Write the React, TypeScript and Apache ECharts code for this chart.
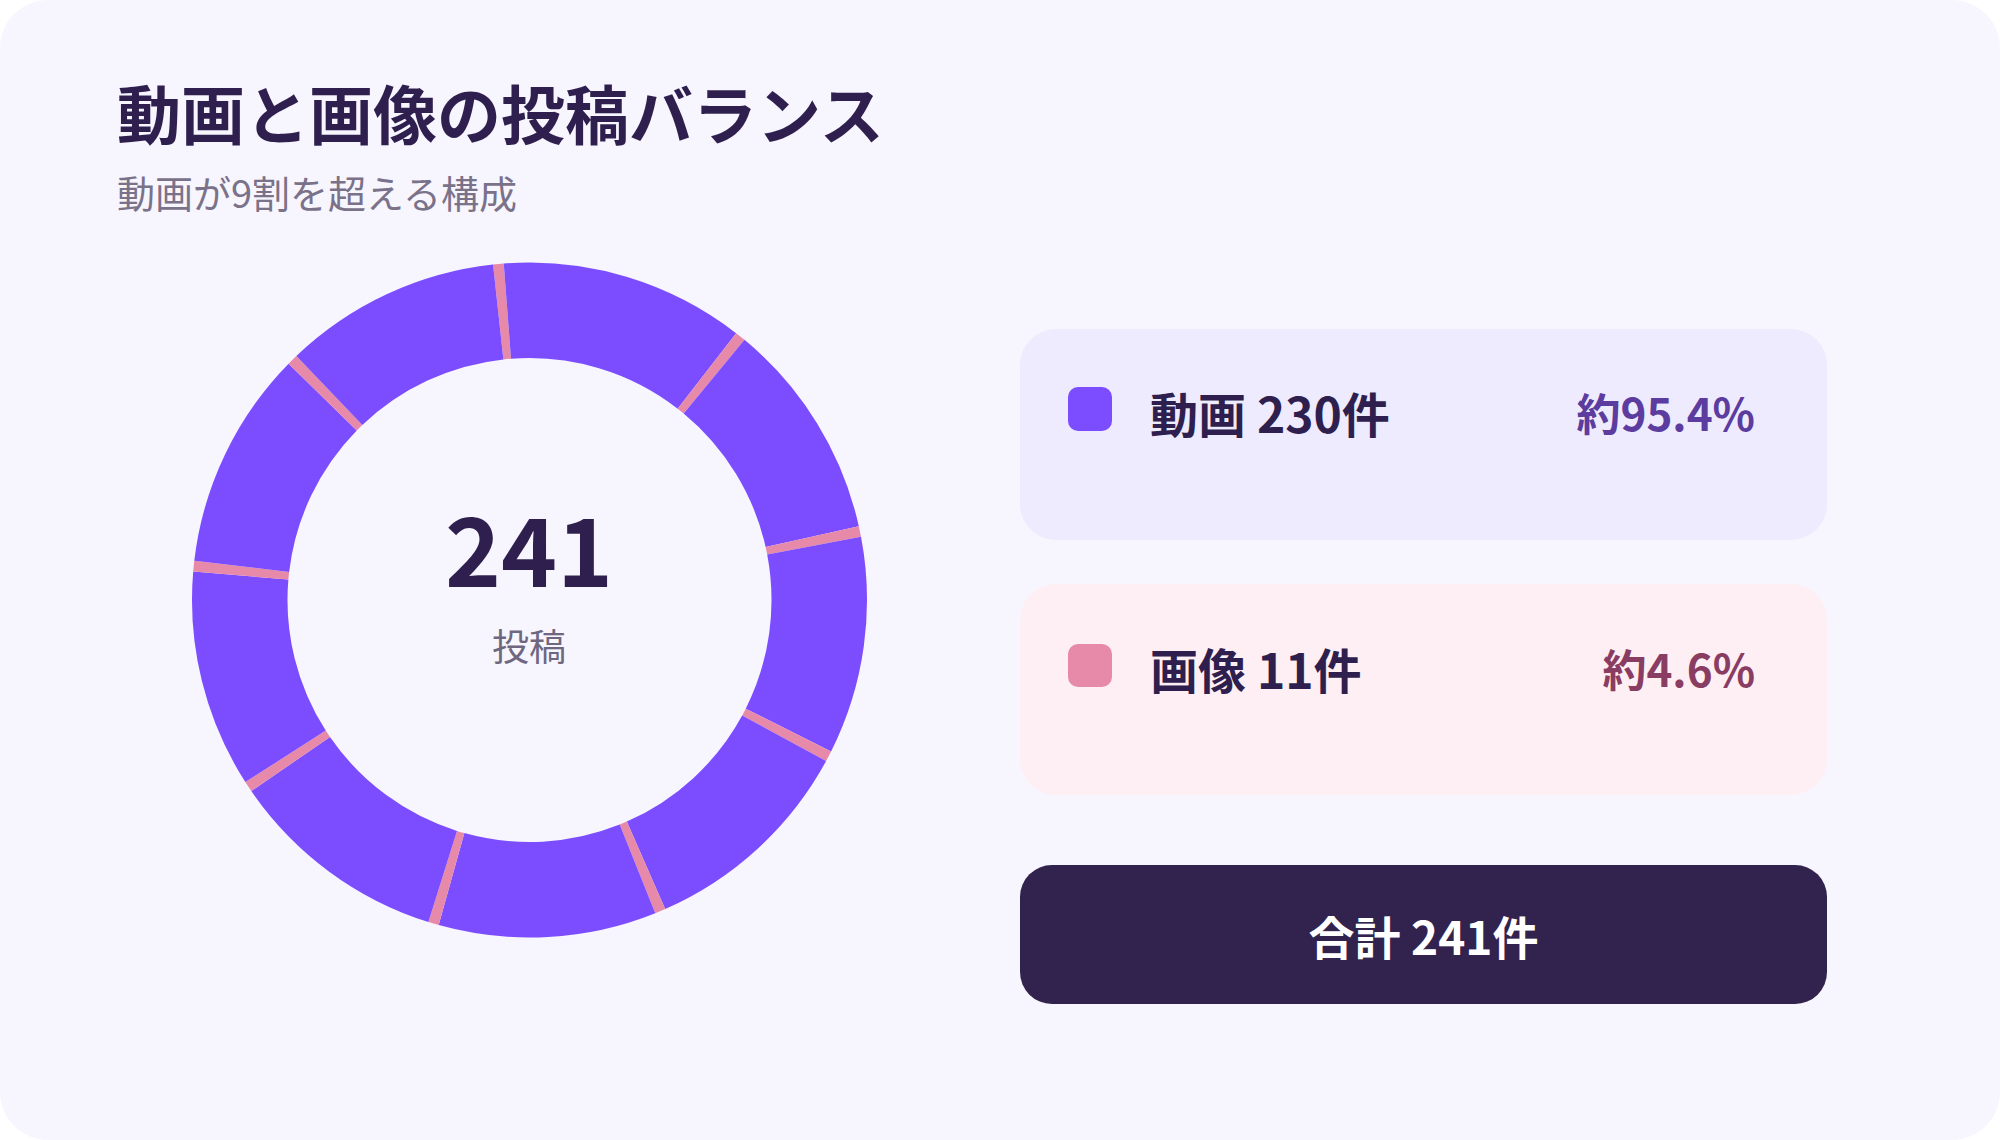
import React, { useEffect, useRef } from "react";
import * as echarts from "echarts";

// Totals
const categories = ["動画", "画像"];
const totals = [230, 11];
const percentLabels = ["約95.4%", "約4.6%"];
// Ring segments: video blocks separated by thin image slices
const videoSegments = [28.2, 25.3, 25.1, 25.3, 25.1, 25.5, 25.1, 25.3, 25.1];
const imageSegments = [1.22, 1.22, 1.22, 1.22, 1.22, 1.22, 1.22, 1.22, 1.24];

const PURPLE = "#7C4DFF";
const PINK = "#E78AAA";
const DARK = "#2F1F4E";
const FONT = "'Noto Sans CJK JP', 'Noto Sans', sans-serif";

export default function App() {
  const ref = useRef<HTMLDivElement>(null);
  useEffect(() => {
    if (!ref.current) return;
    const chart = echarts.init(ref.current, null, { renderer: "svg" });
    const ringData: any[] = [];
    for (let i = 0; i < videoSegments.length; i++) {
      ringData.push({ name: categories[1] + (i + 1), value: imageSegments[i], itemStyle: { color: PINK } });
      ringData.push({ name: categories[0] + (i + 1), value: videoSegments[i], itemStyle: { color: PURPLE } });
    }
    const total = totals[0] + totals[1];
    const cardX = 1020;
    const cardW = 807;
    chart.setOption({
      animation: false,
      graphic: [
        { type: "rect", z: -10, shape: { x: 0, y: 0, width: 2000, height: 1140, r: 48 }, style: { fill: "#F7F5FE" } },
        { type: "text", style: { x: 117, y: 111, text: "動画と画像の投稿バランス", font: `bold 64px ${FONT}`, fill: DARK, textVerticalAlign: "middle" } },
        { type: "text", style: { x: 117, y: 191, text: "動画が9割を超える構成", font: `normal 38px ${FONT}`, fill: "#7A7289", textVerticalAlign: "middle" } },
        // center labels
        { type: "text", style: { x: 529, y: 545, text: String(total), font: `bold 95px ${FONT}`, fill: DARK, textAlign: "center", textVerticalAlign: "middle" } },
        { type: "text", style: { x: 529, y: 645, text: "投稿", font: `normal 37px ${FONT}`, fill: "#6F6780", textAlign: "center", textVerticalAlign: "middle" } },
        // card 1
        { type: "rect", shape: { x: cardX, y: 329, width: cardW, height: 211, r: 36 }, style: { fill: "#EEEBFE" } },
        { type: "rect", shape: { x: 1068, y: 387, width: 44, height: 44, r: 10 }, style: { fill: PURPLE } },
        { type: "text", style: { x: 1150, y: 412, text: `${categories[0]} ${totals[0]}件`, font: `bold 48px ${FONT}`, fill: DARK, textVerticalAlign: "middle" } },
        { type: "text", style: { x: 1755, y: 412, text: percentLabels[0], font: `bold 44px ${FONT}`, fill: "#5C3C9E", textAlign: "right", textVerticalAlign: "middle" } },
        // card 2
        { type: "rect", shape: { x: cardX, y: 584, width: cardW, height: 211, r: 36 }, style: { fill: "#FEEFF4" } },
        { type: "rect", shape: { x: 1068, y: 644, width: 44, height: 43, r: 10 }, style: { fill: PINK } },
        { type: "text", style: { x: 1150, y: 668, text: `${categories[1]} ${totals[1]}件`, font: `bold 48px ${FONT}`, fill: DARK, textVerticalAlign: "middle" } },
        { type: "text", style: { x: 1755, y: 668, text: percentLabels[1], font: `bold 44px ${FONT}`, fill: "#8A3D62", textAlign: "right", textVerticalAlign: "middle" } },
        // total button
        { type: "rect", shape: { x: cardX, y: 865, width: cardW, height: 139, r: 32 }, style: { fill: "#32224E" } },
        { type: "text", style: { x: cardX + cardW / 2, y: 935, text: `合計 ${total}件`, font: `bold 46px ${FONT}`, fill: "#FFFFFF", textAlign: "center", textVerticalAlign: "middle" } },
      ],
      series: [
        {
          type: "pie",
          center: [529.5, 600],
          radius: [242, 337.5],
          startAngle: 96.2,
          clockwise: true,
          silent: true,
          label: { show: false },
          labelLine: { show: false },
          emphasis: { disabled: true },
          itemStyle: { borderWidth: 0 },
          data: ringData,
        },
      ],
    });
    return () => chart.dispose();
  }, []);
  return (
    <div
      ref={ref}
      style={{ position: "fixed", left: 0, top: 0, width: 2000, height: 1140, background: "#FFFFFF" }}
    />
  );
}
